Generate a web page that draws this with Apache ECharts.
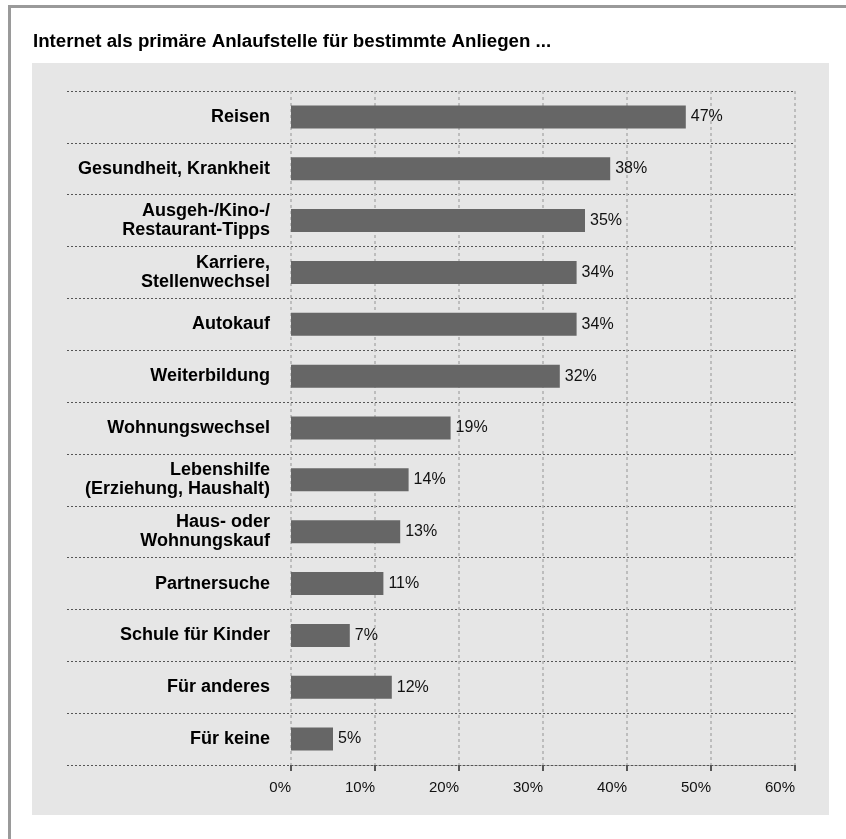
<!DOCTYPE html>
<html>
<head>
<meta charset="utf-8">
<script src="https://cdn.jsdelivr.net/npm/echarts@6/dist/echarts.min.js"></script>
<style>
  html, body { margin: 0; padding: 0; background: #fff; }
  #chart { width: 846px; height: 839px; }
</style>
</head>
<body>
<div id="chart"></div>
<script>
// Anliegen (von oben nach unten)
const categories = [
  'Reisen',
  'Gesundheit, Krankheit',
  'Ausgeh-/Kino-/\nRestaurant-Tipps',
  'Karriere,\nStellenwechsel',
  'Autokauf',
  'Weiterbildung',
  'Wohnungswechsel',
  'Lebenshilfe\n(Erziehung, Haushalt)',
  'Haus- oder\nWohnungskauf',
  'Partnersuche',
  'Schule für Kinder',
  'Für anderes',
  'Für keine'
]
const values = [47, 38, 35, 34, 34, 32, 19, 14, 13, 11, 7, 12, 5]
const tickMax = 60
const tickStep = 10

const font = "'Liberation Sans', Arial, sans-serif"
const chart = echarts.init(document.getElementById('chart'), null, { renderer: 'canvas' })

const op = {
  animation: false,
  textStyle: { fontFamily: font },
  title: {
    text: 'Internet als primäre Anlaufstelle für bestimmte Anliegen ...',
    left: 33,
    top: 32,
    padding: 0,
    textStyle: { fontFamily: font, fontSize: 18.7, fontWeight: 'bold', color: '#000' }
  },
  graphic: [
    // Rahmen
    { type: 'rect', silent: true, z: -10, shape: { x: 8, y: 5, width: 3, height: 834 }, style: { fill: '#9a9a9a' } },
    { type: 'rect', silent: true, z: -10, shape: { x: 8, y: 5, width: 838, height: 3 }, style: { fill: '#9a9a9a' } },
    // grauer Hintergrund
    { type: 'rect', silent: true, z: -10, shape: { x: 32, y: 63, width: 797, height: 752 }, style: { fill: '#e6e6e6' } }
  ],
  grid: [
    { left: 291, right: 51, top: 91, bottom: 74 },
    { left: 67, right: 51, top: 91, bottom: 74 }
  ],
  xAxis: [
    {
      type: 'value',
      gridIndex: 0,
      min: 0,
      max: tickMax,
      interval: tickStep,
      axisLine: { show: true, lineStyle: { color: '#555', width: 1, type: [2, 2] } },
      axisTick: { show: true, length: 6, lineStyle: { color: '#555', width: 2 } },
      axisLabel: {
        formatter: '{value}%',
        fontSize: 15,
        color: '#111',
        align: 'right',
        margin: 15
      },
      splitLine: { show: true, lineStyle: { color: '#b0b0b0', width: 1.5, type: [3, 3] } },
      z: 3
    },
    {
      type: 'value',
      gridIndex: 1,
      show: false
    }
  ],
  yAxis: [
    {
      type: 'category',
      gridIndex: 0,
      data: categories,
      inverse: true,
      axisLine: { show: false },
      axisTick: { show: false },
      axisLabel: {
        fontSize: 18,
        fontWeight: 'bold',
        color: '#000',
        lineHeight: 19,
        margin: 21,
        align: 'right'
      },
      splitLine: { show: false }
    },
    {
      type: 'category',
      gridIndex: 1,
      data: categories,
      inverse: true,
      axisLine: { show: false },
      axisTick: { show: false },
      axisLabel: { show: false },
      splitLine: { show: true, interval: 0, lineStyle: { color: '#555', width: 1, type: [2, 2] } }
    }
  ],
  series: [
    {
      type: 'bar',
      xAxisIndex: 0,
      yAxisIndex: 0,
      data: values,
      barWidth: 23,
      itemStyle: { color: '#666666' },
      label: {
        show: true,
        position: 'right',
        distance: 5,
        formatter: '{c}%',
        fontSize: 16,
        color: '#111'
      },
      z: 4
    }
  ]
}

chart.setOption(op)
</script>
</body>
</html>
